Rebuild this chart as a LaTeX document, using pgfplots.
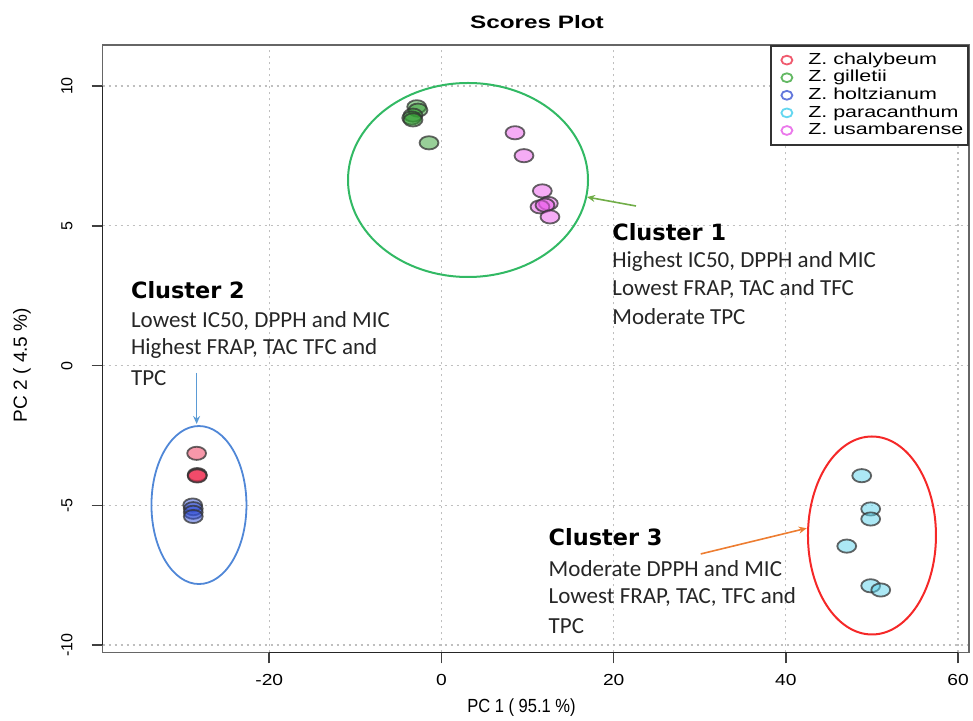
\documentclass[border=0pt]{standalone}
\usepackage{fontspec}
\setmainfont{Liberation Sans}
\newfontfamily\calib{Carlito}
\newfontfamily\dejavu{DejaVu Sans}
\usepackage{graphicx}
\usepackage{pgfplots}
\pgfplotsset{compat=1.18}
\usetikzlibrary{arrows.meta}
\definecolor{cchal}{RGB}{240,50,85}
\definecolor{cgill}{RGB}{50,160,50}
\definecolor{choltz}{RGB}{50,80,215}
\definecolor{cpara}{RGB}{90,210,235}
\definecolor{cusam}{RGB}{235,90,235}
\definecolor{lchal}{RGB}{240,90,110}
\definecolor{lgill}{RGB}{100,185,100}
\definecolor{lholtz}{RGB}{100,120,220}
\definecolor{lpara}{RGB}{100,215,240}
\definecolor{lusam}{RGB}{235,120,235}
\definecolor{ellg}{RGB}{50,185,100}
\definecolor{ellb}{RGB}{80,135,215}
\definecolor{ellr}{RGB}{245,40,40}
\definecolor{arrg}{RGB}{112,173,71}
\definecolor{arrb}{RGB}{91,155,213}
\definecolor{arro}{RGB}{237,125,49}
\begin{document}
\begin{tikzpicture}
\path[use as bounding box] (-51.35pt,-33.85pt) rectangle (435.15pt,326.15pt);
\begin{axis}[
  at={(0,0)}, anchor=south west,
  scale only axis, width=433.15pt, height=303.65pt,
  xmin=-39.35, xmax=61.27, ymin=-10.26, ymax=11.47,
  xtick={-20,0,20,40,60}, ytick={-10,-5,0,5,10},
  xtick pos=bottom, ytick pos=left,
  tick align=outside, major tick length=5.5pt,
  axis line style={draw=black!60, line width=0.8pt},
  tick style={draw=black!75, line width=0.8pt},
  grid=major, grid style={draw=black!25, dash pattern=on 1.2pt off 1.8pt, line width=0.6pt},
  tick label style={font=\fontsize{8}{9}\selectfont},
  /pgf/number format/assume math mode=true,
  xticklabel style={xscale=1.2, yshift=-2pt},
  yticklabel style={xshift=-6pt, rotate=90, anchor=south},
  xlabel={PC 1 ( 95.1 \%)},
  xlabel style={at={(rel axis cs:0.4834,-0.0917)}, anchor=center, font=\fontsize{9.5}{11}\selectfont, xscale=0.87},
  ylabel={PC 2 ( 4.5 \%)},
  ylabel style={at={(rel axis cs:-0.0932,0.473)}, anchor=center, font=\fontsize{9.5}{11}\selectfont},
  every axis title shift=0pt,
  title={\scalebox{1.35}[1]{Scores Plot}},
  title style={at={(rel axis cs:0.5013,1.0379)}, anchor=center, font=\bfseries\fontsize{9}{10}\selectfont},
  legend style={at={(1,1)}, anchor=north east, draw=black!80, line width=0.8pt,
    font=\fontsize{8}{9}\selectfont, inner xsep=0.5pt, inner ysep=1.5pt, row sep=-2.5pt, column sep=5.5pt},
  legend cell align=left,
  clip=false,
]
\addlegendimage{legend image code/.code={\path[draw=none,fill=none] (-7.5pt,0) -- (3pt,0); \draw[lchal, fill=none, line width=0.9pt, xscale=1.25] (0,0) circle (2.2pt);}}
\addlegendimage{legend image code/.code={\path[draw=none,fill=none] (-7.5pt,0) -- (3pt,0); \draw[lgill, fill=none, line width=0.9pt, xscale=1.25] (0,0) circle (2.2pt);}}
\addlegendimage{legend image code/.code={\path[draw=none,fill=none] (-7.5pt,0) -- (3pt,0); \draw[lholtz, fill=none, line width=0.9pt, xscale=1.25] (0,0) circle (2.2pt);}}
\addlegendimage{legend image code/.code={\path[draw=none,fill=none] (-7.5pt,0) -- (3pt,0); \draw[lpara, fill=none, line width=0.9pt, xscale=1.25] (0,0) circle (2.2pt);}}
\addlegendimage{legend image code/.code={\path[draw=none,fill=none] (-7.5pt,0) -- (3pt,0); \draw[lusam, fill=none, line width=0.9pt, xscale=1.25] (0,0) circle (2.2pt);}}
\legend{\scalebox{1.34}[1]{Z. chalybeum},\scalebox{1.34}[1]{Z. gilletii},\scalebox{1.34}[1]{Z. holtzianum},\scalebox{1.34}[1]{Z. paracanthum},\scalebox{1.34}[1]{Z. usambarense}}

\pgfplotsset{ptstyle/.style={only marks, mark=*, mark size=3.3pt, forget plot,
   mark options={xscale=1.43, line width=0.9pt, draw=black!80, draw opacity=0.75, fill=#1, fill opacity=0.5}}}

% Z. chalybeum
\addplot[ptstyle=cchal] coordinates {(-28.44,-3.14) (-28.37,-3.90) (-28.37,-3.93) (-28.37,-3.95)};
% Z. gilletii
\addplot[ptstyle=cgill] coordinates {(-2.88,9.26) (-2.73,9.14) (-3.31,8.96) (-3.46,8.86) (-3.31,8.79) (-1.45,7.97)};
% Z. holtzianum
\addplot[ptstyle=choltz] coordinates {(-28.90,-4.99) (-28.83,-5.12) (-28.83,-5.25) (-28.83,-5.40)};
% Z. paracanthum
\addplot[ptstyle=cpara] coordinates {(48.81,-3.94) (49.85,-5.13) (49.85,-5.49) (47.07,-6.46) (49.85,-7.88) (51.02,-8.03)};
% Z. usambarense
\addplot[ptstyle=cusam] coordinates {(8.54,8.33) (9.58,7.51) (11.71,6.25) (12.41,5.80) (11.44,5.68) (12.02,5.74) (12.60,5.32)};

% darker R axis lines over the box
\draw[black!85, line width=0.8pt] (axis cs:-39.35,-10) -- (axis cs:-39.35,10);
\draw[black!85, line width=0.8pt] (axis cs:-20,-10.26) -- (axis cs:60,-10.26);

% cluster ellipses
\draw[ellg, line width=1pt] (axis cs:3.08,6.64) ellipse [x radius=60pt, y radius=48.5pt];
\draw[ellb, line width=0.9pt] (axis cs:-28.17,-4.99) ellipse [x radius=23.75pt, y radius=39.5pt];
\draw[ellr, line width=1pt] (axis cs:50.0,-6.08) ellipse [x radius=32pt, y radius=49.5pt];

% arrows
\draw[arrg, line width=0.8pt, -{Stealth[length=4pt,width=3.5pt]}] (axis cs:22.59,5.71) -- (axis cs:16.90,6.03);
\draw[arrb, line width=0.8pt, -{Stealth[length=4pt,width=3.5pt]}] (axis cs:-28.44,-0.26) -- (axis cs:-28.44,-2.09);
\draw[arro, line width=0.8pt, -{Stealth[length=4pt,width=3.5pt]}] (axis cs:30.11,-6.74) -- (axis cs:42.42,-5.82);

% annotations
\tikzset{hd/.style={anchor=base west, inner sep=0pt, font=\dejavu\bfseries\fontsize{11.2}{13}\selectfont},
         tx/.style={anchor=base west, inner sep=0pt, font=\calib\fontsize{11.5}{13}\selectfont, text=black!85}}
\node[hd] at (axis cs:19.80,4.49) {Cluster 1};
\node[tx] at (axis cs:19.80,3.52) {Highest IC50, DPPH and MIC};
\node[tx] at (axis cs:19.80,2.52) {Lowest FRAP, TAC and TFC};
\node[tx] at (axis cs:19.80,1.48) {Moderate TPC};

\node[hd] at (axis cs:-36.10,2.40) {Cluster 2};
\node[tx] at (axis cs:-36.10,1.37) {Lowest IC50, DPPH and MIC};
\node[tx] at (axis cs:-36.10,0.38) {Highest FRAP, TAC TFC and};
\node[tx] at (axis cs:-36.10,-0.72) {TPC};

\node[hd] at (axis cs:12.41,-6.45) {Cluster 3};
\node[tx] at (axis cs:12.41,-7.53) {Moderate DPPH and MIC};
\node[tx] at (axis cs:12.41,-8.51) {Lowest FRAP, TAC, TFC and};
\node[tx] at (axis cs:12.41,-9.58) {TPC};
\end{axis}
\end{tikzpicture}
\end{document}
